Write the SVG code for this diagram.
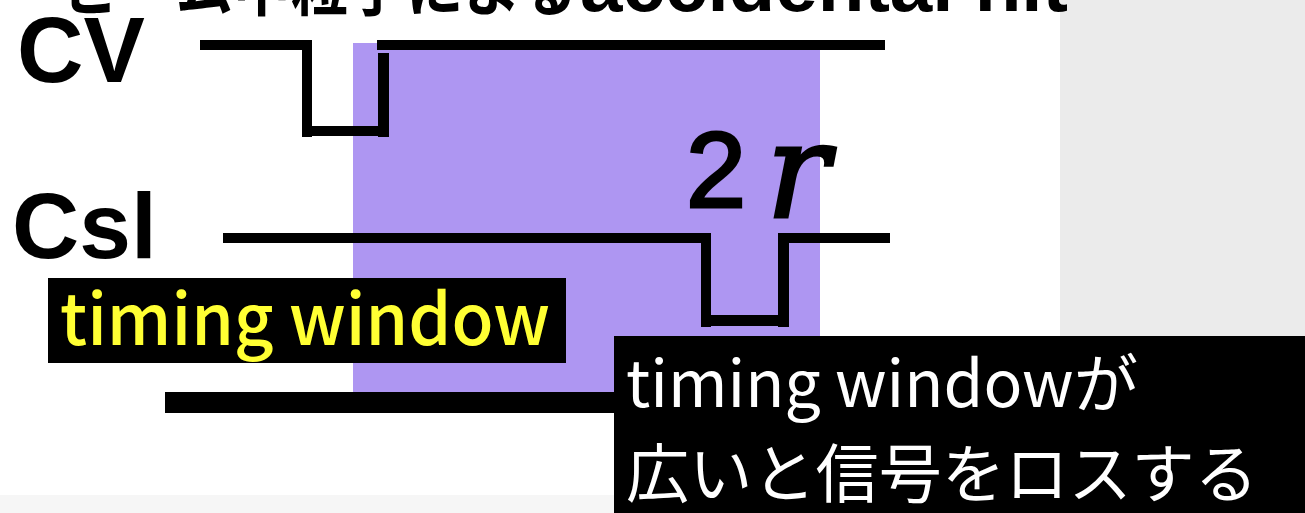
<svg xmlns="http://www.w3.org/2000/svg" width="1305" height="513" viewBox="0 0 1305 513">
<style>
.sig{fill:#000}
.lbl{font-family:"Liberation Sans",Arial,sans-serif;font-weight:bold;fill:#000}
.jp{font-family:"Noto Sans CJK JP","Noto Sans",sans-serif}
</style>
<rect x="0" y="0" width="1305" height="513" fill="#ffffff"/>
<rect x="1060" y="0" width="245" height="340" fill="#ebebeb"/>
<rect x="0" y="495" width="620" height="18" fill="#f6f6f6"/>
<g id="title">
<text class="jp" font-weight="bold" font-size="62" y="11"><tspan x="62" textLength="515" lengthAdjust="spacingAndGlyphs">ビーム中粒子による</tspan><tspan x="580" textLength="488" lengthAdjust="spacingAndGlyphs" font-family="Liberation Sans, sans-serif" font-size="76">accidental hit</tspan></text>
</g>
<g id="window">
<rect x="353" y="43" width="467" height="349" fill="#ae96f2"/>
</g>
<g id="cv">
<text class="lbl" x="17" y="82" font-size="92">CV</text>
</g>
<g id="csl">
<text class="lbl" x="12" y="258" font-size="93">Csl</text>
</g>
<g id="connectors">
<!-- CV waveform -->
<rect class="sig" x="200" y="40" width="111" height="10"/>
<rect class="sig" x="302" y="40" width="10" height="97"/>
<rect class="sig" x="302" y="126" width="87" height="10"/>
<rect class="sig" x="378" y="53" width="11" height="84"/>
<rect class="sig" x="377" y="40" width="508" height="10"/>
<!-- Csl waveform -->
<rect class="sig" x="223" y="233" width="488" height="10"/>
<rect class="sig" x="701" y="233" width="10" height="94"/>
<rect class="sig" x="701" y="315" width="88" height="11"/>
<rect class="sig" x="778" y="233" width="11" height="94"/>
<rect class="sig" x="778" y="233" width="112" height="10"/>
<!-- bottom line -->
<rect class="sig" x="165" y="392" width="460" height="21"/>
</g>
<g id="width-label">
<text x="686" y="207" font-family="Liberation Sans, sans-serif" font-size="108" fill="#000" stroke="#000" stroke-width="3">2</text>
<text x="766" y="217" font-family="DejaVu Serif, serif" font-style="italic" font-size="132" fill="#000" stroke="#000" stroke-width="3">r</text>
</g>
<g id="timing-window-label">
<rect x="48" y="278" width="518" height="85" fill="#000"/>
<text x="60" y="345" font-family="Noto Sans CJK JP, Noto Sans, sans-serif" font-weight="500" font-size="70" fill="#ffff33" textLength="490" lengthAdjust="spacingAndGlyphs">timing window</text>
</g>
<g id="callout">
<rect x="614" y="336" width="691" height="177" fill="#000"/>
<text class="jp" font-size="64" fill="#fff"><tspan x="626" y="407" textLength="512" lengthAdjust="spacingAndGlyphs">timing windowが</tspan><tspan x="626" y="497" textLength="632" lengthAdjust="spacingAndGlyphs">広いと信号をロスする</tspan></text>
</g>
</svg>
